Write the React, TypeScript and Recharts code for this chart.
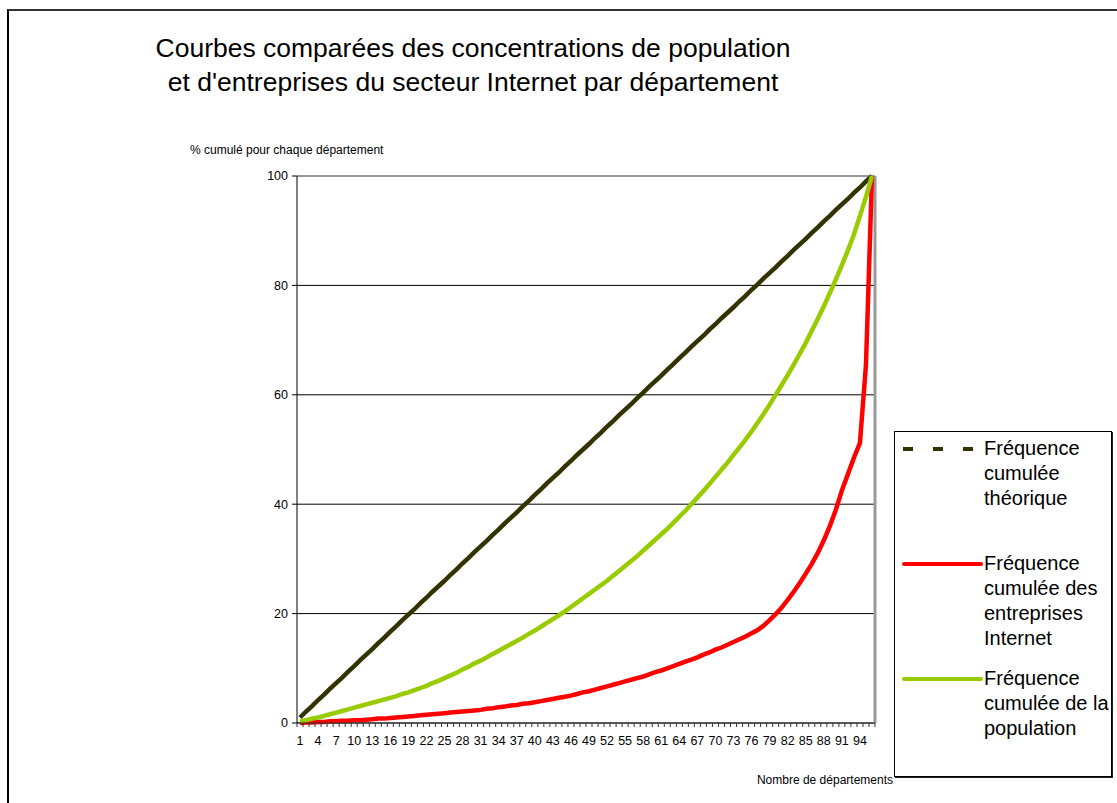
import React from 'react';
import { LineChart, Line, XAxis, YAxis, CartesianGrid, Legend, ReferenceLine } from 'recharts';

// rang du département (1 = le moins peuplé)
const DEPARTEMENTS = [
  1, 2, 3, 4, 5, 6, 7, 8, 9, 10, 11, 12, 13, 14, 15, 16, 17, 18, 19, 20, 21, 22, 23, 24,
  25, 26, 27, 28, 29, 30, 31, 32, 33, 34, 35, 36, 37, 38, 39, 40, 41, 42, 43, 44, 45, 46, 47, 48,
  49, 50, 51, 52, 53, 54, 55, 56, 57, 58, 59, 60, 61, 62, 63, 64, 65, 66, 67, 68, 69, 70, 71, 72,
  73, 74, 75, 76, 77, 78, 79, 80, 81, 82, 83, 84, 85, 86, 87, 88, 89, 90, 91, 92, 93, 94, 95, 96,
];

const X_LABELS = [1, 4, 7, 10, 13, 16, 19, 22, 25, 28, 31, 34, 37, 40, 43, 46, 49, 52, 55, 58, 61, 64, 67, 70, 73, 76, 79, 82, 85, 88, 91, 94];
const Y_TICKS = [0, 20, 40, 60, 80, 100];

const THEORIQUE = [
  1.0, 2.1, 3.1, 4.2, 5.2, 6.3, 7.3, 8.3, 9.4, 10.4, 11.5, 12.5, 13.5, 14.6, 15.6, 16.7,
  17.7, 18.8, 19.8, 20.8, 21.9, 22.9, 24.0, 25.0, 26.0, 27.1, 28.1, 29.2, 30.2, 31.3, 32.3, 33.3,
  34.4, 35.4, 36.5, 37.5, 38.5, 39.6, 40.6, 41.7, 42.7, 43.8, 44.8, 45.8, 46.9, 47.9, 49.0, 50.0,
  51.0, 52.1, 53.1, 54.2, 55.2, 56.3, 57.3, 58.3, 59.4, 60.4, 61.5, 62.5, 63.5, 64.6, 65.6, 66.7,
  67.7, 68.8, 69.8, 70.8, 71.9, 72.9, 74.0, 75.0, 76.0, 77.1, 78.1, 79.2, 80.2, 81.3, 82.3, 83.3,
  84.4, 85.4, 86.5, 87.5, 88.5, 89.6, 90.6, 91.7, 92.7, 93.8, 94.8, 95.8, 96.9, 97.9, 99.0, 100,
];

const ENTREPRISES = [
  0.0, 0.1, 0.1, 0.2, 0.2, 0.3, 0.3, 0.4, 0.4, 0.5, 0.5, 0.6, 0.7, 0.8, 0.8, 0.9,
  1.0, 1.1, 1.2, 1.3, 1.4, 1.5, 1.6, 1.7, 1.8, 1.9, 2.0, 2.1, 2.2, 2.3, 2.4, 2.6,
  2.7, 2.9, 3.0, 3.2, 3.3, 3.5, 3.6, 3.8, 4.0, 4.2, 4.4, 4.6, 4.8, 5.0, 5.3, 5.6,
  5.8, 6.1, 6.4, 6.7, 7.0, 7.3, 7.6, 7.9, 8.2, 8.5, 8.9, 9.3, 9.6, 10.0, 10.4, 10.8,
  11.2, 11.6, 12.0, 12.5, 12.9, 13.4, 13.8, 14.3, 14.8, 15.3, 15.8, 16.4, 17.0, 17.8, 18.8, 19.9,
  21.1, 22.5, 24.0, 25.6, 27.3, 29.1, 31.1, 33.4, 36.0, 39.0, 42.5, 45.5, 48.5, 51.2, 65.5, 100,
];

const POPULATION = [
  0.3, 0.5, 0.8, 1.0, 1.3, 1.6, 1.9, 2.2, 2.5, 2.8, 3.1, 3.4, 3.7, 4.0, 4.3, 4.6,
  4.9, 5.3, 5.6, 6.0, 6.4, 6.8, 7.3, 7.7, 8.2, 8.7, 9.2, 9.8, 10.3, 10.9, 11.4, 12.0,
  12.6, 13.2, 13.8, 14.4, 15.0, 15.6, 16.3, 16.9, 17.6, 18.3, 19.0, 19.7, 20.4, 21.2, 22.0, 22.8,
  23.6, 24.4, 25.2, 26.0, 26.9, 27.8, 28.7, 29.6, 30.5, 31.5, 32.5, 33.5, 34.5, 35.5, 36.6, 37.7,
  38.8, 40.0, 41.2, 42.4, 43.7, 45.0, 46.3, 47.6, 49.0, 50.4, 51.8, 53.3, 54.9, 56.5, 58.2, 60.0,
  61.8, 63.6, 65.5, 67.5, 69.5, 71.7, 73.9, 76.2, 78.6, 81.1, 83.7, 86.4, 89.3, 92.7, 96.2, 100,
];

// ordre et libellés de la légende
const LEGEND_ORDER = ['theorique', 'entreprises', 'population'];
const LEGEND_LINES: Record<string, string[]> = {
  theorique: ['Fréquence', 'cumulée', 'théorique'],
  entreprises: ['Fréquence', 'cumulée des', 'entreprises', 'Internet'],
  population: ['Fréquence', 'cumulée de la', 'population'],
};

const data = DEPARTEMENTS.map((d, i) => ({
  dept: d,
  theorique: THEORIQUE[i],
  entreprises: ENTREPRISES[i],
  population: POPULATION[i],
}));

const FONT = '"Liberation Sans", Arial, sans-serif';
const PLOT_W = 578;
const HALF_BAND = PLOT_W / DEPARTEMENTS.length / 2;

const XTick = (props: any) => {
  const { x, y, payload } = props;
  const v = payload.value;
  return (
    <g>
      <line x1={x - HALF_BAND} y1={y} x2={x - HALF_BAND} y2={y + 4} stroke="#333" />
      {v === DEPARTEMENTS[DEPARTEMENTS.length - 1] && (
        <line x1={x + HALF_BAND} y1={y} x2={x + HALF_BAND} y2={y + 4} stroke="#333" />
      )}
      {X_LABELS.includes(v) && (
        <text x={x} y={y + 22} textAnchor="middle" fontSize={12.5} fill="#000" fontFamily={FONT}>
          {v}
        </text>
      )}
    </g>
  );
};

const LEGEND_TOPS = [4, 119, 234];

const LegendBox = ({ payload }: any) => {
  const entries = LEGEND_ORDER.map((k) => (payload || []).find((p: any) => p.dataKey === k)).filter(Boolean);
  return (
    <div
      style={{
        position: 'relative',
        width: 218,
        height: 346,
        border: '1px solid #000',
        boxShadow: '1px 1px 0 #222',
        background: '#fff',
        fontFamily: FONT,
        fontSize: 20,
        lineHeight: '25px',
        color: '#000',
        boxSizing: 'border-box',
      }}
    >
      {entries.map((entry: any, i: number) => {
        const key = entry.dataKey as string;
        const dashed = key === 'theorique';
        return (
          <div key={key} style={{ position: 'absolute', left: 0, top: LEGEND_TOPS[i], width: 218 }}>
            <svg width={90} height={25} style={{ position: 'absolute', left: 0, top: 0 }}>
              {dashed ? (
                <line x1={8} y1={13} x2={78} y2={13} stroke={entry.color} strokeWidth={4} strokeDasharray="10 20" />
              ) : (
                <line x1={9} y1={13} x2={86} y2={13} stroke={entry.color} strokeWidth={4} strokeLinecap="round" />
              )}
            </svg>
            <div style={{ position: 'absolute', left: 89, top: 0, whiteSpace: 'nowrap' }}>
              {LEGEND_LINES[key].map((t) => (
                <div key={t}>{t}</div>
              ))}
            </div>
          </div>
        );
      })}
    </div>
  );
};

export default function App() {
  return (
    <div
      style={{
        position: 'absolute',
        left: 0,
        top: 0,
        width: 1117,
        height: 803,
        overflow: 'hidden',
        background: '#fff',
        fontFamily: FONT,
      }}
    >
      {/* cadre du graphique */}
      <div
        style={{
          position: 'absolute',
          left: 7,
          top: 9,
          width: 1300,
          height: 1000,
          borderLeft: '2px solid #000',
          borderTop: '2px solid #333',
        }}
      />
      <div
        style={{
          position: 'absolute',
          left: 0,
          top: 31,
          width: 946,
          textAlign: 'center',
          fontSize: 26.5,
          lineHeight: '34px',
          color: '#000',
        }}
      >
        <div>Courbes comparées des concentrations de population</div>
        <div>et d'entreprises du secteur Internet par département</div>
      </div>
      <div style={{ position: 'absolute', left: 190, top: 143, fontSize: 12, lineHeight: '14px', color: '#000' }}>
        % cumulé pour chaque département
      </div>
      <div
        style={{
          position: 'absolute',
          right: 1117 - 893,
          top: 773,
          fontSize: 12,
          lineHeight: '14px',
          color: '#000',
          whiteSpace: 'nowrap',
        }}
      >
        Nombre de départements
      </div>
      <div style={{ position: 'absolute', left: 0, top: 0 }}>
        <LineChart width={1117} height={803} data={data} margin={{ top: 176, right: 242, bottom: 50, left: 257 }}>
          <CartesianGrid stroke="#000" vertical={false} />
          <XAxis
            dataKey="dept"
            type="number"
            domain={[0.5, 96.5]}
            ticks={DEPARTEMENTS}
            interval={0}
            tick={<XTick />}
            tickLine={false}
            tickSize={0}
            tickMargin={0}
            height={30}
            axisLine={{ stroke: '#333' }}
          />
          <YAxis
            type="number"
            domain={[0, 100]}
            ticks={Y_TICKS}
            width={40}
            tickSize={5}
            tickMargin={4}
            tick={{ fontSize: 12.5, fill: '#000', fontFamily: FONT }}
            axisLine={{ stroke: '#000' }}
            tickLine={{ stroke: '#000' }}
          />
          <ReferenceLine y={100} stroke="#999" strokeWidth={2} />
          <ReferenceLine x={96.5} stroke="#999" strokeWidth={3} />
          <Line
            dataKey="theorique"
            name="Fréquence cumulée théorique"
            stroke="#333300"
            strokeWidth={4.5}
            dot={false}
            type="linear"
            isAnimationActive={false}
          />
          <Line
            dataKey="entreprises"
            name="Fréquence cumulée des entreprises Internet"
            stroke="#ff0000"
            strokeWidth={4.5}
            dot={false}
            type="linear"
            isAnimationActive={false}
          />
          <Line
            dataKey="population"
            name="Fréquence cumulée de la population"
            stroke="#99cc00"
            strokeWidth={4.5}
            dot={false}
            type="linear"
            isAnimationActive={false}
          />
          <Legend
            layout="vertical"
            align="center"
            verticalAlign="middle"
            content={<LegendBox />}
            wrapperStyle={{ left: 894, top: 431, width: 218, height: 346 }}
          />
        </LineChart>
      </div>
    </div>
  );
}
